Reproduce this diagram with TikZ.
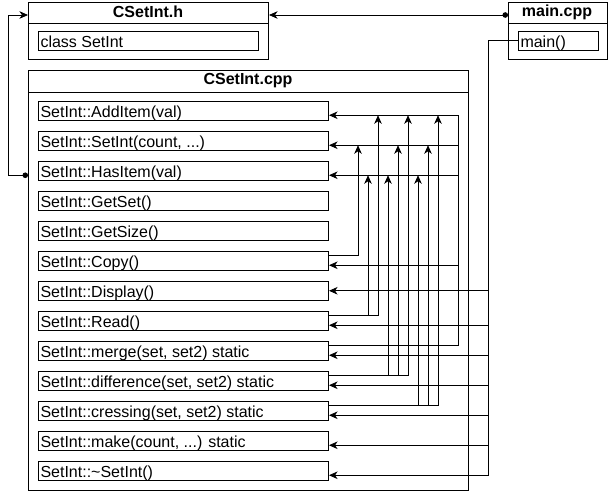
\documentclass[tikz,border=0pt]{standalone}
\usepackage{fontspec}
\setmainfont{Liberation Sans}
\usetikzlibrary{arrows.meta,positioning,calc}
\newcommand\etcdots{...}

\begin{document}
\begin{tikzpicture}[
                x=1pt,y=-1pt,
                container/.style={draw,line width=1pt,anchor=north west,inner sep=0pt},
                boxtitle/.style={font=\fontsize{16}{18}\selectfont\bfseries},
                member/.style={draw,line width=1pt,anchor=north west,minimum height=18.5pt,text width=286pt,inner xsep=2pt,inner ysep=0pt,text height=15.5pt,text depth=1.5pt,align=flush left,font=\fontsize{16}{18}\selectfont},
                call/.style={line width=0.8pt,-{Stealth[length=8.5pt,width=7.5pt,inset=2.5pt]}},
                link/.style={line width=0.8pt},
                dotcall/.style={line width=0.8pt,{Circle[length=5.5pt]}-{Stealth[length=8.5pt,width=7.5pt,inset=2.5pt]}}
            ]
                \useasboundingbox (0,0) rectangle (609,491);

                % Header
                \node[container,minimum width=240pt,minimum height=57pt] (h) at (28,2) {};
                \draw[line width=1pt] ([yshift=-21pt]h.north west) -- ([yshift=-21pt]h.north east);
                \node[boxtitle] (htitle) at (148,12) {CSetInt.h};
                \node[member,text width=216pt] (cls) at (38,31) {class SetInt};

                % Main file
                \node[container,minimum width=99pt,minimum height=57pt] (main) at (508,2) {};
                \draw[line width=1pt] ([yshift=-21pt]main.north west) -- ([yshift=-21pt]main.north east);
                \node[boxtitle] (maintitle) at (557,12) {main.cpp};
                \node[member,text width=76pt] (mainfn) at (518,31) {main()};

                % Implementation file
                \node[container,minimum width=440pt,minimum height=420pt] (cpp) at (28,70) {};
                \draw[line width=1pt] ([yshift=-22pt]cpp.north west) -- ([yshift=-22pt]cpp.north east);
                \node[boxtitle] (cpptitle) at (248,81) {CSetInt.cpp};

                % Methods
                \foreach \txt [count=\i from 0] in {SetInt::AddItem(val), {SetInt::SetInt(count, \etcdots)}, SetInt::HasItem(val), SetInt::GetSet(), SetInt::GetSize(), SetInt::Copy(), SetInt::Display(), SetInt::Read(), {SetInt::merge(set, set2) static}, {SetInt::difference(set, set2) static}, {SetInt::cressing(set, set2) static}, {SetInt::make(count, \etcdots) static}, SetInt::\textasciitilde SetInt()}{
                    \node[member] (m\i) at (38,101+30*\i) {\txt};
                    \coordinate (in\i) at ([yshift=-4.5pt]m\i.east);
                    \coordinate (out\i) at ([yshift=5pt]m\i.east);
                }

                % Rails
                \foreach \j in {1,...,9}
                    \coordinate (r\j) at (348+10*\j,0);
                \coordinate (mergerail) at (458,0);
                \coordinate (mainrail) at (488,0);

                % Includes
                \draw[dotcall] ([yshift=-13pt]main.north west) -- ([yshift=-13pt]h.north east);
                \draw[dotcall] (cpp.west |- in2) -- ++(-20,0) |- ([yshift=-13pt]h.north west);

                % Calls from main()
                \draw[call] (mainfn.west) -| (in12 -| mainrail) -- (in12);
                \draw[call] (m6.east -| mainrail) -- (m6.east);
                \draw[call] (in7 -| mainrail) -- (in7);
                \draw[call] (in8 -| mainrail) -- (in8);
                \draw[call] (in9 -| mainrail) -- (in9);
                \draw[call] (in10 -| mainrail) -- (in10);
                \draw[call] (in11 -| mainrail) -- (in11);

                % Calls from merge
                \draw[call] (out8) -| (in0 -| mergerail) -- (in0);
                \draw[call] (in1 -| mergerail) -- (in1);
                \draw[call] (in2 -| mergerail) -- (in2);
                \draw[call] (in5 -| mergerail) -- (in5);

                % Copy, Read
                \draw[call] (out5) -| (in1 -| r1);
                \draw[call] (out7) -| (in2 -| r2);
                \draw[call] (out7) -| (in0 -| r3);

                % difference
                \draw[call] (out9) -| (in2 -| r4);
                \draw[call] (out9) -| (in1 -| r5);
                \draw[call] (out9) -| (in0 -| r6);

                % cressing
                \draw[call] (out10) -| (in2 -| r7);
                \draw[call] (out10) -| (in1 -| r8);
                \draw[call] (out10) -| (in0 -| r9);
            \end{tikzpicture}
\end{document}
